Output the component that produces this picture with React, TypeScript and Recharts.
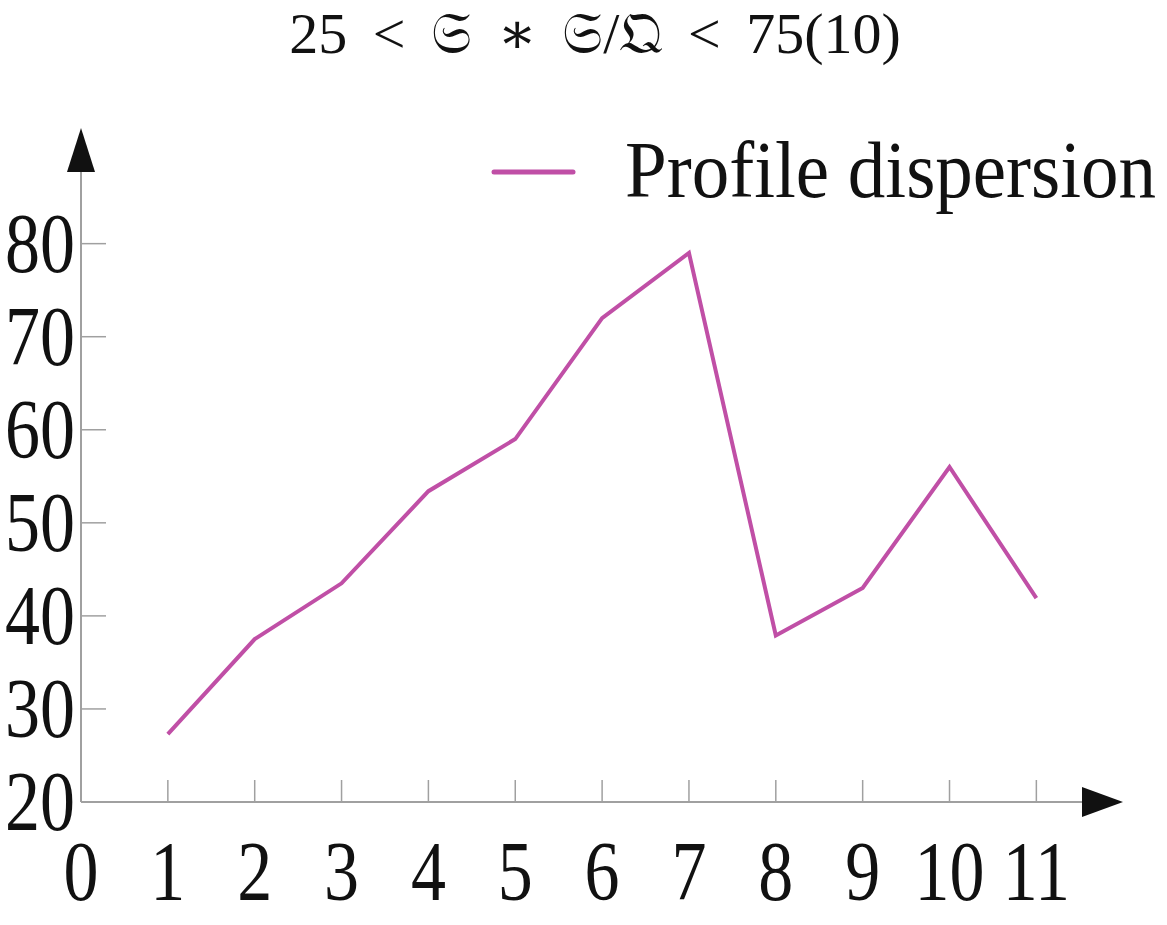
import { LineChart, Line, XAxis, YAxis, ReferenceDot } from "recharts";

// data
const positions = [1, 2, 3, 4, 5, 6, 7, 8, 9, 10, 11];
const dispersion = [27.3, 37.5, 43.5, 53.4, 59.0, 72.0, 79.0, 37.9, 43.0, 56.0, 41.9];
const xTicks = [0, 1, 2, 3, 4, 5, 6, 7, 8, 9, 10, 11];
const yTicks = [20, 30, 40, 50, 60, 70, 80];

const X_MAX = 11.56;
const Y_MIN = 20;
const Y_MAX = 87.7;

const LINE_COLOR = "#c04fa6";
const AXIS_COLOR = "#a0a0a0";
const FONT = "'Liberation Serif', 'Times New Roman', 'DejaVu Serif', serif";

const chartData = positions.map((p, i) => ({ x: p, value: dispersion[i] }));

const YTick = (props: any) => {
  const { x, y, payload } = props;
  return (
    <g>
      {payload.value !== Y_MIN && (
        <line x1={x} y1={y} x2={x + 25} y2={y} stroke={AXIS_COLOR} strokeWidth={1.5} />
      )}
      <text
        transform={`translate(${x - 6},${y + 28}) scale(1,1.22)`}
        textAnchor="end"
        fontFamily={FONT}
        fontSize={70}
        fill="#111"
      >
        {payload.value}
      </text>
    </g>
  );
};

const XTick = (props: any) => {
  const { x, y, payload } = props;
  return (
    <g>
      {payload.value !== 0 && (
        <line x1={x} y1={y} x2={x} y2={y - 22} stroke={AXIS_COLOR} strokeWidth={1.5} />
      )}
      <text
        transform={`translate(${x},${y + 98}) scale(1,1.22)`}
        textAnchor="middle"
        fontFamily={FONT}
        fontSize={70}
        fill="#111"
      >
        {payload.value}
      </text>
    </g>
  );
};

const UpArrow = (props: any) => {
  const { cx, cy } = props;
  return <polygon points={`${cx},${cy - 44} ${cx - 14},${cy} ${cx + 14},${cy}`} fill="#111" />;
};

const RightArrow = (props: any) => {
  const { cx, cy } = props;
  return <polygon points={`${cx + 38},${cy} ${cx - 3},${cy - 15} ${cx - 3},${cy + 15}`} fill="#111" />;
};

export default function App() {
  return (
    <div style={{ position: "absolute", left: 0, top: 0, width: 1167, height: 925, background: "#fff" }}>
      <svg style={{ position: "absolute", left: 0, top: 0 }} width={1167} height={230}>
        <text
          x={595}
          y={53}
          textAnchor="middle"
          fontFamily={FONT}
          fontSize={58}
          wordSpacing={11}
          fill="#111"
        >
          25 &lt; 𝔖 ∗ 𝔖/𝔔 &lt; 75(10)
        </text>
        <line x1={494} y1={172} x2={573} y2={172} stroke={LINE_COLOR} strokeWidth={5} strokeLinecap="round" />
        <text
          transform="translate(625,197) scale(1,1.07)"
          fontFamily={FONT}
          fontSize={75}
          fill="#111"
        >
          Profile dispersion
        </text>
      </svg>
      <LineChart
        width={1167}
        height={925}
        data={chartData}
        margin={{ top: 172, right: 82, bottom: 0, left: 0 }}
        style={{ position: "absolute", left: 0, top: 0 }}
      >
        <XAxis
          dataKey="x"
          type="number"
          domain={[0, X_MAX]}
          ticks={xTicks}
          interval={0}
          allowDataOverflow
          height={123}
          stroke={AXIS_COLOR}
          strokeWidth={2}
          tickLine={false}
          tickSize={0}
          tickMargin={0}
          tick={<XTick />}
        />
        <YAxis
          type="number"
          domain={[Y_MIN, Y_MAX]}
          ticks={yTicks}
          interval={0}
          allowDataOverflow
          width={81}
          stroke={AXIS_COLOR}
          strokeWidth={2}
          tickLine={false}
          tickSize={0}
          tickMargin={0}
          tick={<YTick />}
        />
        <Line
          type="linear"
          dataKey="value"
          name="Profile dispersion"
          stroke={LINE_COLOR}
          strokeWidth={4}
          dot={false}
          activeDot={false}
          isAnimationActive={false}
        />
        <ReferenceDot x={0} y={Y_MAX} r={0} ifOverflow="visible" shape={<UpArrow />} />
        <ReferenceDot x={X_MAX} y={Y_MIN} r={0} ifOverflow="visible" shape={<RightArrow />} />
      </LineChart>
    </div>
  );
}
